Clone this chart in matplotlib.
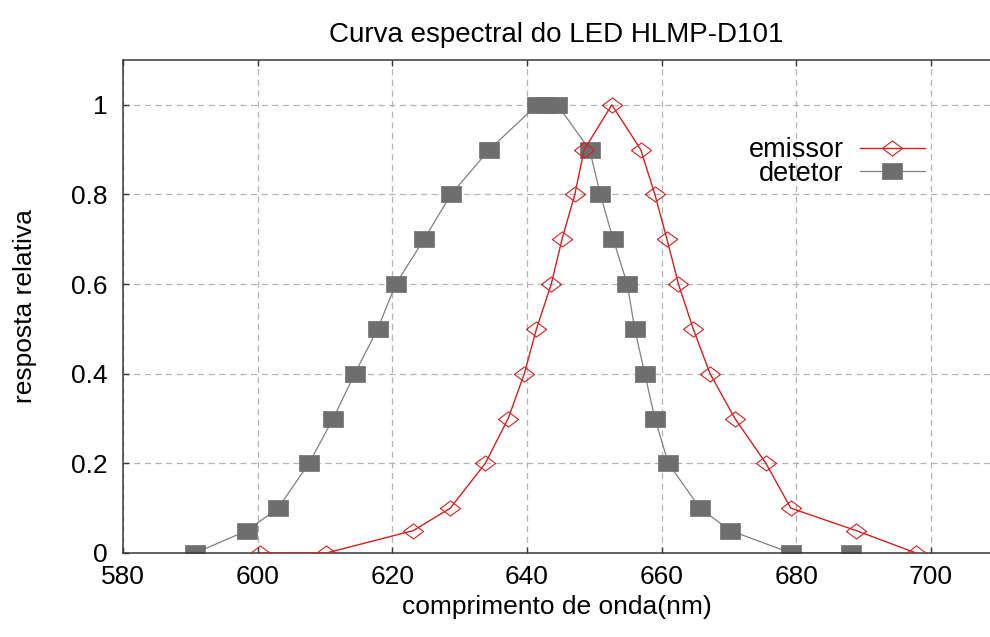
import matplotlib
matplotlib.use("Agg")
import matplotlib.pyplot as plt

# emissor (LED emission)
emissor_x = [600.3, 610.2, 623.1, 628.6, 633.8, 637.2, 639.6, 641.4, 643.6, 645.2,
             647.1, 648.5, 652.6, 656.9, 659.0, 660.8, 662.5, 664.7, 667.2, 670.9,
             675.5, 679.2, 688.9, 697.8]
emissor_y = [0, 0, 0.05, 0.1, 0.2, 0.3, 0.4, 0.5, 0.6, 0.7,
             0.8, 0.9, 1.0, 0.9, 0.8, 0.7, 0.6, 0.5, 0.4, 0.3,
             0.2, 0.1, 0.05, 0]

# detetor (detector response)
detetor_x = [590.7, 598.4, 603.0, 607.6, 611.2, 614.4, 617.8, 620.5, 624.7, 628.7,
             634.4, 641.5, 643.0, 644.5, 649.3, 650.9, 652.8, 654.9, 656.0, 657.5,
             659.0, 661.0, 665.7, 670.2, 679.2, 688.2]
detetor_y = [0, 0.05, 0.1, 0.2, 0.3, 0.4, 0.5, 0.6, 0.7, 0.8,
             0.9, 1.0, 1.0, 1.0, 0.9, 0.8, 0.7, 0.6, 0.5, 0.4,
             0.3, 0.2, 0.1, 0.05, 0, 0]

x_ticks = [580, 600, 620, 640, 660, 680, 700]
y_ticks = [0, 0.2, 0.4, 0.6, 0.8, 1.0]
y_tick_labels = ['0', '0.2', '0.4', '0.6', '0.8', '1']

plt.rcParams['font.family'] = ['Liberation Sans', 'DejaVu Sans']

diamond = [(-1, 0), (0, 0.75), (1, 0), (0, -0.75), (-1, 0)]
square = [(-1, -0.82), (1, -0.82), (1, 0.82), (-1, 0.82), (-1, -0.82)]

fig = plt.figure(figsize=(9.9, 6.37), dpi=100)
ax = fig.add_axes([0.1245, 0.1319, 0.8755, 0.7739])

ax.plot(emissor_x, emissor_y, color='#d42020', lw=1.0, marker=diamond,
        markersize=14.5, fillstyle='none', markeredgewidth=0.8,
        markeredgecolor='#d42020', label='emissor', zorder=3)
ax.plot(detetor_x, detetor_y, color='#808080', lw=0.9, marker=square,
        markersize=14.5, markerfacecolor='#6e6e6e', markeredgecolor='#6e6e6e',
        markeredgewidth=0.5, label='detetor', zorder=2)

ax.set_xlim(580, 708.8)
ax.set_ylim(0, 1.1)
ax.set_xticks(x_ticks)
ax.set_yticks(y_ticks)
ax.set_yticklabels(y_tick_labels)

ax.grid(True, color='#b4b4b4', linestyle=(0, (5, 3.5)), linewidth=0.9)
ax.set_axisbelow(True)

for side in ['left', 'bottom', 'top']:
    ax.spines[side].set_color('#383838')
    ax.spines[side].set_linewidth(1.1)
ax.spines['right'].set_visible(False)

ax.tick_params(axis='both', direction='in', length=4, width=1, color='#383838',
               labelsize=19, top=True)
ax.tick_params(axis='y', pad=11)
ax.tick_params(axis='x', pad=9)

ax.set_title('Curva espectral do LED HLMP-D101', fontsize=20, pad=13)
ax.set_xlabel('comprimento de onda(nm)', fontsize=19, labelpad=4)
ax.set_ylabel('resposta relativa', fontsize=19, labelpad=25)

ax.legend(loc='center right', bbox_to_anchor=(0.925, 0.793), frameon=False,
          markerfirst=False, fontsize=19.5, handlelength=2.4, handletextpad=0.6,
          labelspacing=-0.08, borderpad=0, borderaxespad=0, numpoints=1)

fig.savefig('out.png', dpi=100)
